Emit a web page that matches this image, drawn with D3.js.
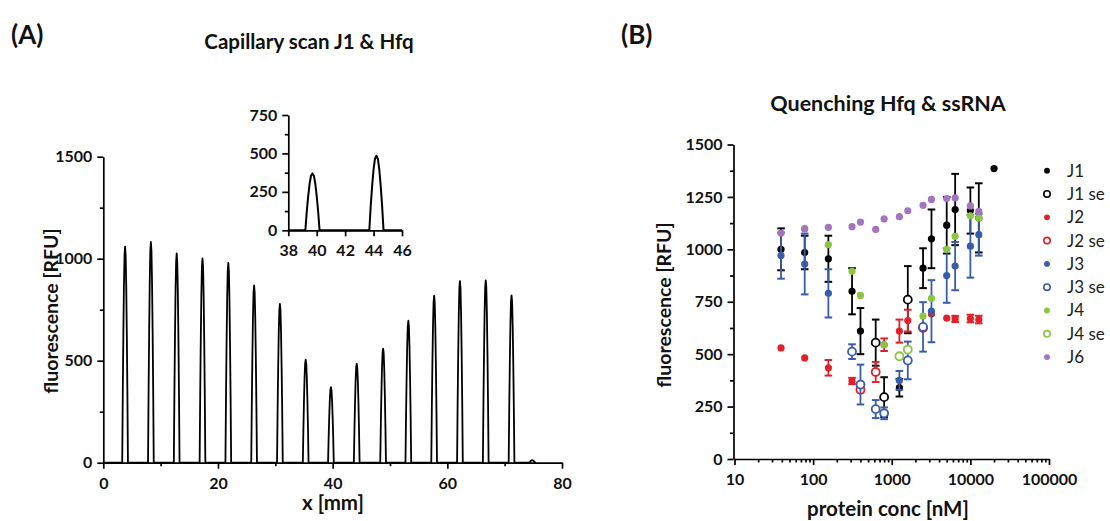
<!DOCTYPE html>
<html>
<head>
<meta charset="utf-8">
<script src="https://cdn.jsdelivr.net/npm/d3@7"></script>
<style>
  body { margin: 0; background: #fff; }
  svg { display: block; font-family: Lato, "Open Sans", sans-serif; }
  .axis path, .axis line { stroke: #000; stroke-width: 1.7; }
  .axis text { font-size: 16px; font-weight: bold; fill: #111; font-family: Lato, "Open Sans", sans-serif; }
  .title { font-weight: bold; fill: #111; }
  .panel { font-size: 26px; font-weight: bold; fill: #111; }
  .alabel { font-weight: bold; fill: #111; }
  .legend text { font-size: 17px; fill: #222; }
</style>
</head>
<body>
<svg id="fig" width="1110" height="521"></svg>
<script>
// ---------- Panel A: capillary scan ----------
// peak centres (mm) and peak heights (RFU) of the scan
const scanPeakPos    = [3.8, 8.3, 12.8, 17.3, 21.8, 26.3, 30.8, 35.3, 39.7, 44.2, 48.8, 53.2, 57.7, 62.2, 66.7, 71.2, 74.8];
const scanPeakHeight = [1059, 1082, 1026, 1002, 980, 869, 779, 505, 370, 485, 559, 696, 819, 890, 894, 820, 12];
// single-peak profile: offset from centre (mm) and fraction of peak height
const peakOffset = [-0.5, -0.4, -0.3, -0.2, -0.1, 0, 0.1, 0.2, 0.3, 0.4, 0.5];
const peakShape  = [0, 0.33, 0.6, 0.82, 0.96, 1, 0.96, 0.82, 0.6, 0.33, 0];
const scanStart = 0, scanEnd = 75.5;

const mainXTicks = [0, 20, 40, 60, 80];
const mainYTicks = [0, 500, 1000, 1500];
const insetXTicks = [38, 40, 42, 44, 46];
const insetYTicks = [0, 250, 500, 750];

// ---------- Panel B: quenching titration ----------
const j1Conc = [39.06, 78.13, 156.3, 312.5, 400, 1250, 2500, 3200, 5000, 6400, 10000, 12800, 20000];
const j1Mean = [1000, 985, 955, 800, 610, 340, 910, 1050, 1115, 1190, 1185, 1150, 1385];
const j1Err  = [100, 80, 110, 110, 110, 42, 95, 140, 135, 170, 110, 165, 0];

const j1seConc = [625, 800, 1600];
const j1seMean = [555, 295, 760];
const j1seErr  = [110, 95, 160];

const j2Conc = [39.06, 78.13, 156.3, 312.5, 800, 1250, 1600, 3200, 5000, 6400, 10000, 12800];
const j2Mean = [530, 482, 435, 372, 545, 610, 660, 692, 672, 668, 670, 665];
const j2Err  = [0, 0, 37, 15, 30, 55, 52, 0, 0, 15, 18, 18];

const j2seConc = [400, 625, 2500];
const j2seMean = [330, 415, 625];
const j2seErr  = [12, 48, 0];

const j3Conc = [39.06, 78.13, 156.3, 1250, 3200, 5000, 6400, 10000, 12800];
const j3Mean = [970, 930, 790, 375, 705, 875, 920, 1015, 1070];
const j3Err  = [110, 145, 115, 45, 148, 130, 115, 150, 100];

const j3seConc = [312.5, 400, 625, 800, 1600, 2500];
const j3seMean = [512, 355, 238, 218, 470, 630];
const j3seErr  = [35, 95, 43, 28, 90, 118];

const j4Conc = [78.13, 156.3, 312.5, 400, 800, 2500, 3200, 5000, 6400, 10000, 12800];
const j4Mean = [1100, 1022, 895, 780, 545, 682, 766, 1000, 1062, 1160, 1150];

const j4seConc = [1250, 1600];
const j4seMean = [490, 522];

const j6Conc = [39.06, 78.13, 156.3, 312.5, 400, 625, 800, 1250, 1600, 2500, 3200, 5000, 6400, 10000, 12800];
const j6Mean = [1078, 1097, 1105, 1108, 1130, 1095, 1145, 1156, 1184, 1210, 1238, 1242, 1245, 1207, 1181];

const seriesNames  = ["J1", "J1 se", "J2", "J2 se", "J3", "J3 se", "J4", "J4 se", "J6"];
const seriesColors = ["#000000", "#000000", "#e0212b", "#e0212b", "#3a5ca8", "#3a5ca8", "#8cc540", "#8cc540", "#a374c0"];
const seriesOpen   = [false, true, false, true, false, true, false, true, false];

const bXTicks = [10, 100, 1000, 10000, 100000];
const bYTicks = [0, 250, 500, 750, 1000, 1250, 1500];

const svg = d3.select("#fig");
const intFmt = d3.format("d");

// ---------- shared axis helper ----------
function drawAxis(g, axisFn, scale, major, minor, size) {
  const a = axisFn(scale).tickValues(major).tickSize(6).tickSizeOuter(0).tickPadding(5).tickFormat(intFmt);
  g.attr("class", "axis").call(a);
  if (minor && minor.length) {
    const m = axisFn(scale).tickValues(minor).tickSize(size || 3.5).tickSizeOuter(0).tickFormat("");
    g.append("g").attr("class", "axis").call(m).select(".domain").remove();
  }
  return g;
}

// ---------- Panel A ----------
const trace = [[scanStart, 0]];
scanPeakPos.forEach((p, i) => {
  peakOffset.forEach((o, k) => trace.push([p + o, scanPeakHeight[i] * peakShape[k]]));
});
trace.push([scanEnd, 0]);

const ax = d3.scaleLinear().domain([0, 80]).range([103.3, 562]);
const ay = d3.scaleLinear().domain([0, 1500]).range([462.7, 156.7]);

drawAxis(svg.append("g").attr("transform", `translate(0,${ay(0)})`), d3.axisBottom, ax,
  mainXTicks, [10, 30, 50, 70], 3.5).selectAll(".tick text").attr("dy", "0.95em");
drawAxis(svg.append("g").attr("transform", `translate(${ax(0)},0)`), d3.axisLeft, ay,
  mainYTicks, [250, 750, 1250], 3.5);

svg.append("path").datum(trace)
  .attr("fill", "none").attr("stroke", "#000").attr("stroke-width", 1.8).attr("stroke-linejoin", "round")
  .attr("d", d3.line().x(d => ax(d[0])).y(d => ay(d[1])));

// inset: zoom on 38–46 mm
const ix = d3.scaleLinear().domain([38, 46]).range([288.3, 402]);
const iy = d3.scaleLinear().domain([0, 750]).range([230.3, 115]);
drawAxis(svg.append("g").attr("transform", `translate(0,${iy(0)})`), d3.axisBottom, ix,
  insetXTicks, [], 3.5).selectAll(".tick text").attr("dy", "0.95em");
drawAxis(svg.append("g").attr("transform", `translate(${ix(38)},0)`), d3.axisLeft, iy,
  insetYTicks, [125, 375, 625], 3.5);
const insetTrace = trace.filter(d => d[0] >= 38 && d[0] <= 46);
insetTrace.unshift([38, 0]); insetTrace.push([46, 0]);
svg.append("path").datum(insetTrace)
  .attr("fill", "none").attr("stroke", "#000").attr("stroke-width", 2).attr("stroke-linejoin", "round")
  .attr("d", d3.line().x(d => ix(d[0])).y(d => iy(d[1])));

svg.append("text").attr("class", "panel").attr("x", 11).attr("y", 44).text("(A)");
svg.append("text").attr("class", "title").attr("x", 309).attr("y", 49).attr("text-anchor", "middle")
  .style("font-size", "20.5px").text("Capillary scan J1 & Hfq");
svg.append("text").attr("class", "alabel").attr("text-anchor", "middle").style("font-size", "19.5px")
  .attr("transform", "translate(58,311) rotate(-90)").text("fluorescence [RFU]");
svg.append("text").attr("class", "alabel").attr("x", 333).attr("y", 510).attr("text-anchor", "middle")
  .style("font-size", "20.5px").text("x [mm]");

// ---------- Panel B ----------
const bx = d3.scaleLog().domain([10, 100000]).range([734.5, 1049]);
const by = d3.scaleLinear().domain([0, 1500]).range([459, 144.5]);

const logMinor = [];
[10, 100, 1000, 10000].forEach(dec => { for (let k = 2; k <= 9; k++) logMinor.push(dec * k); });
drawAxis(svg.append("g").attr("transform", `translate(0,${by(0)})`), d3.axisBottom, bx,
  bXTicks, logMinor, 3.5).selectAll(".tick text").attr("dy", "0.95em");
drawAxis(svg.append("g").attr("transform", `translate(${bx(10) - 1},0)`), d3.axisLeft, by,
  bYTicks, [125, 375, 625, 875, 1125, 1375], 3.5);

const allSeries = [
  [j1Conc, j1Mean, j1Err], [j1seConc, j1seMean, j1seErr],
  [j2Conc, j2Mean, j2Err], [j2seConc, j2seMean, j2seErr],
  [j3Conc, j3Mean, j3Err], [j3seConc, j3seMean, j3seErr],
  [j4Conc, j4Mean, null],  [j4seConc, j4seMean, null],
  [j6Conc, j6Mean, null]
];

const plotB = svg.append("g");
allSeries.forEach(([conc, mean, err], s) => {
  const col = seriesColors[s];
  const g = plotB.append("g");
  const pts = conc.map((c, i) => ({ c, v: mean[i], e: err ? err[i] : 0 }));
  const withErr = pts.filter(d => d.e > 0);
  const cap = 3.8;
  g.selectAll("line.eb").data(withErr).join("line")
    .attr("x1", d => bx(d.c)).attr("x2", d => bx(d.c))
    .attr("y1", d => by(d.v - d.e)).attr("y2", d => by(d.v + d.e))
    .attr("stroke", col).attr("stroke-width", 1.8);
  g.selectAll("line.capT").data(withErr).join("line")
    .attr("x1", d => bx(d.c) - cap).attr("x2", d => bx(d.c) + cap)
    .attr("y1", d => by(d.v + d.e)).attr("y2", d => by(d.v + d.e))
    .attr("stroke", col).attr("stroke-width", 2);
  g.selectAll("line.capB").data(withErr).join("line")
    .attr("x1", d => bx(d.c) - cap).attr("x2", d => bx(d.c) + cap)
    .attr("y1", d => by(d.v - d.e)).attr("y2", d => by(d.v - d.e))
    .attr("stroke", col).attr("stroke-width", 2);
  g.selectAll("circle").data(pts).join("circle")
    .attr("cx", d => bx(d.c)).attr("cy", d => by(d.v))
    .attr("r", seriesOpen[s] ? 4 : 3.6)
    .attr("fill", seriesOpen[s] ? "#fff" : col)
    .attr("stroke", col).attr("stroke-width", seriesOpen[s] ? 1.8 : 0);
});

svg.append("text").attr("class", "panel").attr("x", 621).attr("y", 44).text("(B)");
svg.append("text").attr("class", "title").attr("x", 888).attr("y", 111).attr("text-anchor", "middle")
  .style("font-size", "21.5px").text("Quenching Hfq & ssRNA");
svg.append("text").attr("class", "alabel").attr("text-anchor", "middle").style("font-size", "19.5px")
  .attr("transform", "translate(671,305) rotate(-90)").text("fluorescence [RFU]");
svg.append("text").attr("class", "alabel").attr("x", 888).attr("y", 516).attr("text-anchor", "middle")
  .style("font-size", "20.5px").text("protein conc [nM]");

// legend
const leg = svg.append("g").attr("class", "legend");
seriesNames.forEach((name, i) => {
  const y = 170.7 + i * 23.3;
  leg.append("circle").attr("cx", 1047).attr("cy", y)
    .attr("r", seriesOpen[i] ? 3.2 : 2.9)
    .attr("fill", seriesOpen[i] ? "#fff" : seriesColors[i])
    .attr("stroke", seriesColors[i]).attr("stroke-width", seriesOpen[i] ? 1.6 : 0);
  leg.append("text").attr("x", 1067).attr("y", y).attr("dy", "0.35em").text(name);
});
</script>
</body>
</html>
